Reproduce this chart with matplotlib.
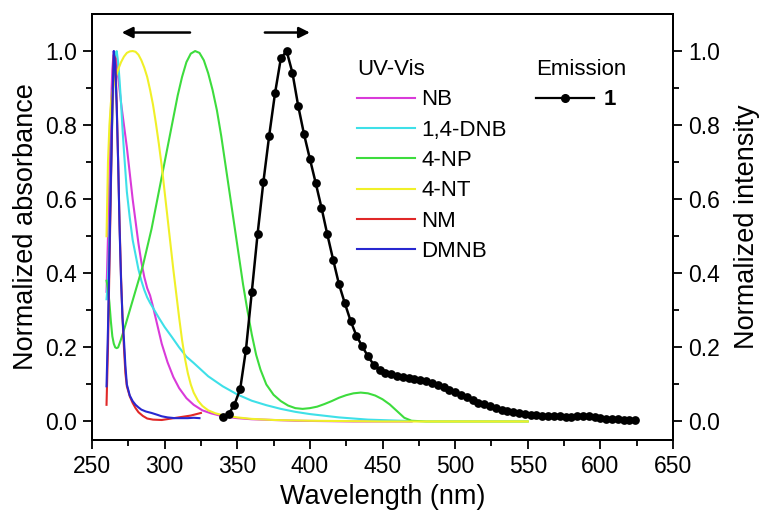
import numpy as np
import matplotlib
matplotlib.use("Agg")
import matplotlib.pyplot as plt
from matplotlib.lines import Line2D
from matplotlib.ticker import FormatStrFormatter

plt.rcParams['font.family'] = ['Liberation Sans', 'DejaVu Sans']

# ---- UV-Vis absorption spectra (normalized) ----
nb_wl = [260, 261, 262, 263, 264, 265, 266, 267, 268, 270, 272, 274, 276, 278, 280,
         282, 284, 286, 288, 290, 292, 295, 298, 302, 306, 310, 315, 320, 326, 332,
         340, 350, 360, 375, 390, 410, 430, 450, 470]
nb_abs = [0.35, 0.5, 0.68, 0.84, 0.95, 1.0, 0.99, 0.97, 0.93, 0.86, 0.8, 0.74, 0.67,
          0.6, 0.54, 0.48, 0.43, 0.39, 0.36, 0.34, 0.31, 0.26, 0.21, 0.16, 0.12, 0.09,
          0.063, 0.045, 0.03, 0.022, 0.014, 0.009, 0.006, 0.004, 0.002, 0.001, 0.0,
          0.0, 0.0]

dnb_wl = [260, 261, 262, 263, 264, 265, 266, 267, 268, 269, 270, 271, 272, 274, 276,
          278, 280, 282, 284, 286, 288, 290, 293, 296, 300, 305, 310, 315, 320, 325,
          330, 340, 350, 360, 370, 380, 390, 400, 420, 440, 470]
dnb_abs = [0.33, 0.38, 0.5, 0.66, 0.82, 0.93, 0.99, 1.0, 0.97, 0.92, 0.86, 0.79, 0.73,
           0.62, 0.55, 0.49, 0.45, 0.41, 0.38, 0.355, 0.335, 0.32, 0.3, 0.28, 0.255,
           0.228, 0.2, 0.175, 0.158, 0.14, 0.122, 0.095, 0.073, 0.056, 0.044, 0.034,
           0.026, 0.02, 0.011, 0.005, 0.001]

np_wl = [260, 261, 262, 263, 264, 265, 266, 267, 268, 270, 273, 276, 279, 282, 285,
         288, 291, 294, 297, 300, 303, 306, 309, 312, 315, 318, 321, 324, 327, 330,
         333, 336, 339, 342, 345, 348, 351, 354, 357, 360, 363, 366, 370, 375, 380,
         385, 390, 395, 400, 405, 410, 415, 420, 425, 430, 435, 440, 445, 450, 455,
         460, 465, 470, 480, 500, 525, 550]
np_abs = [0.38, 0.36, 0.32, 0.27, 0.23, 0.21, 0.2, 0.198, 0.2, 0.222, 0.26, 0.3,
          0.34, 0.38, 0.42, 0.47, 0.52, 0.58, 0.64, 0.7, 0.76, 0.82, 0.88, 0.93,
          0.97, 0.993, 1.0, 0.995, 0.975, 0.94, 0.895, 0.84, 0.77, 0.69, 0.61, 0.53,
          0.45, 0.37, 0.3, 0.235, 0.18, 0.14, 0.1, 0.072, 0.055, 0.043, 0.036, 0.034,
          0.036, 0.04, 0.047, 0.055, 0.064, 0.071, 0.076, 0.078, 0.076, 0.07, 0.06,
          0.046, 0.028, 0.01, 0.002, 0.0, 0.0, 0.0, 0.0]

nt_wl = [260, 261, 262, 263, 264, 266, 268, 270, 272, 274, 276, 278, 280, 282, 284,
         286, 288, 290, 292, 294, 296, 298, 300, 302, 304, 306, 308, 310, 312, 314,
         316, 318, 320, 323, 326, 330, 335, 340, 350, 360, 375, 400, 450, 500, 550]
nt_abs = [0.5, 0.7, 0.8, 0.86, 0.89, 0.925, 0.95, 0.97, 0.985, 0.995, 0.999, 1.0,
          0.998, 0.99, 0.975, 0.955, 0.93, 0.895, 0.855, 0.805, 0.75, 0.69, 0.62,
          0.55, 0.48, 0.41, 0.345, 0.28, 0.22, 0.17, 0.13, 0.1, 0.078, 0.056, 0.042,
          0.03, 0.022, 0.017, 0.011, 0.007, 0.004, 0.002, 0.0, 0.0, 0.0]

nm_wl = [260, 261, 262, 263, 264, 265, 266, 267, 268, 269, 270, 271, 272, 273, 274,
         276, 278, 280, 282, 285, 288, 292, 298, 303, 308, 313, 318, 322, 325]
nm_abs = [0.045, 0.2, 0.42, 0.63, 0.84, 0.99, 0.98, 0.86, 0.7, 0.53, 0.39, 0.28, 0.2,
          0.13, 0.095, 0.068, 0.05, 0.036, 0.025, 0.015, 0.008, 0.005, 0.004, 0.007,
          0.01, 0.013, 0.016, 0.02, 0.023]

dmnb_wl = [260, 261, 262, 263, 264, 265, 266, 267, 268, 269, 270, 271, 272, 273, 274,
           275, 276, 278, 280, 282, 284, 287, 291, 295, 298, 302, 307, 312, 316, 320,
           324]
dmnb_abs = [0.095, 0.25, 0.45, 0.65, 0.85, 1.0, 0.96, 0.85, 0.7, 0.52, 0.38, 0.28,
            0.22, 0.15, 0.1, 0.085, 0.07, 0.055, 0.045, 0.038, 0.032, 0.027, 0.023,
            0.018, 0.014, 0.011, 0.009, 0.009, 0.009, 0.01, 0.009]

# ---- Emission spectrum of compound 1 (normalized) ----
em_wl = np.arange(340, 625, 4)
em_int = [0.012, 0.02, 0.045, 0.087, 0.194, 0.349, 0.506, 0.647, 0.772, 0.886,
          0.98, 1.0, 0.941, 0.851, 0.775, 0.709, 0.644, 0.577, 0.505, 0.437,
          0.371, 0.32, 0.272, 0.232, 0.203, 0.176, 0.153, 0.14, 0.132, 0.128,
          0.124, 0.121, 0.118, 0.116, 0.112, 0.108, 0.103, 0.098, 0.092, 0.085,
          0.079, 0.072, 0.065, 0.058, 0.051, 0.046, 0.041, 0.036, 0.032, 0.028,
          0.025, 0.023, 0.02, 0.018, 0.017, 0.016, 0.015, 0.014, 0.0135, 0.013,
          0.013, 0.014, 0.015, 0.014, 0.011, 0.009, 0.008, 0.007, 0.006, 0.005,
          0.005, 0.005]

uv_series = [
    ("NB", nb_wl, nb_abs, "#d93ad9"),
    ("1,4-DNB", dnb_wl, dnb_abs, "#3ee0e8"),
    ("4-NP", np_wl, np_abs, "#3ddc3d"),
    ("4-NT", nt_wl, nt_abs, "#f0f028"),
    ("NM", nm_wl, nm_abs, "#e02828"),
    ("DMNB", dmnb_wl, dmnb_abs, "#2828d0"),
]

TICK_FS = 16.5
LABEL_FS = 19.5
LEG_FS = 16

fig = plt.figure(figsize=(7.65, 5.12), dpi=100)
ax = fig.add_axes([92 / 765, 1 - 440 / 512, (673 - 92) / 765, (440 - 14) / 512])
ax2 = ax.twinx()

uv_handles = []
for name, wl, vals, col in uv_series:
    h, = ax.plot(wl, vals, color=col, lw=1.5, label=name)
    uv_handles.append(h)

ax2.plot(em_wl, em_int, color="black", lw=1.8, marker="o", markersize=6.3,
         markeredgewidth=0)

for a in (ax, ax2):
    a.set_xlim(250, 650)
    a.set_ylim(-0.05, 1.1)
    for sp in a.spines.values():
        sp.set_linewidth(1.4)
    a.tick_params(which='major', direction='out', length=6.5, width=1.3,
                  labelsize=TICK_FS, pad=4.5)
    a.tick_params(which='minor', direction='out', length=4, width=1.3)
    a.set_yticks(np.arange(0, 1.01, 0.2))
    a.set_yticks(np.arange(0.1, 1.0, 0.2), minor=True)
    a.yaxis.set_major_formatter(FormatStrFormatter('%.1f'))

ax.set_xticks(np.arange(250, 651, 50))
ax.set_xticks(np.arange(275, 650, 50), minor=True)

ax.set_xlabel("Wavelength (nm)", fontsize=LABEL_FS, labelpad=4)
ax.set_ylabel("Normalized absorbance", fontsize=LABEL_FS, labelpad=4)
ax2.set_ylabel("Normalized intensity", fontsize=LABEL_FS, labelpad=10)

# direction arrows: absorbance read on the left axis, emission on the right
ax.annotate("", xy=(270.5, 1.05), xytext=(317.5, 1.05),
            arrowprops=dict(arrowstyle="-|>", color="black", lw=1.8,
                            mutation_scale=16, shrinkA=0, shrinkB=0))
ax.annotate("", xy=(400, 1.05), xytext=(369, 1.05),
            arrowprops=dict(arrowstyle="-|>", color="black", lw=1.8,
                            mutation_scale=16, shrinkA=0, shrinkB=0))

leg1 = ax2.legend(handles=uv_handles, title="UV-Vis", loc="upper left",
                  bbox_to_anchor=(357 / 765, 1 - 59 / 512),
                  bbox_transform=fig.transFigure, frameon=False, fontsize=LEG_FS,
                  title_fontsize=LEG_FS, handlelength=2.6, handletextpad=0.3,
                  labelspacing=0.42, borderpad=0, borderaxespad=0,
                  alignment="left")
ax2.add_artist(leg1)

em_handle = Line2D([], [], color="black", lw=1.6, marker="o", markersize=5.5)
leg2 = ax2.legend(handles=[em_handle], labels=["1"], title="Emission",
                  loc="upper left", bbox_to_anchor=(536 / 765, 1 - 59 / 512),
                  bbox_transform=fig.transFigure, frameon=False, fontsize=LEG_FS,
                  title_fontsize=LEG_FS, handlelength=2.6, handletextpad=0.45,
                  labelspacing=0.42, borderpad=0, borderaxespad=0,
                  alignment="left")
leg2.get_texts()[0].set_fontweight("bold")

fig.savefig("out.png", dpi=100)
